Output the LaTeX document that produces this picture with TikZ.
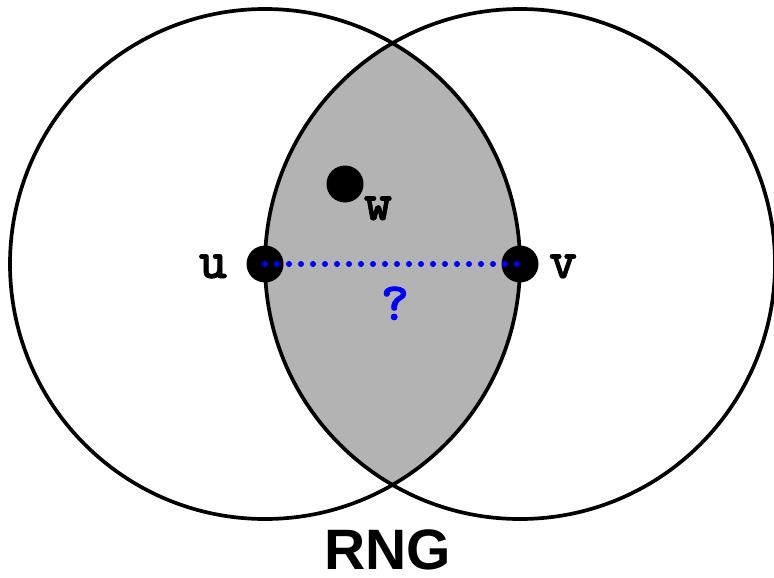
\documentclass[tikz,border=0pt]{standalone}
\usepackage{fontspec}
\newfontfamily\arialfont{Liberation Sans}
\newfontfamily\heavymono{lmmonolt10-bold.otf}[FakeBold=1.2]
\definecolor{lensgray}{RGB}{179,179,179}
\definecolor{qblue}{RGB}{0,0,255}
\begin{document}
\begin{tikzpicture}[x=1pt,y=-1pt,
  ring/.style={draw=black,line width=3.7pt},
  dot/.style={circle,fill=black,inner sep=0pt,minimum size=37pt},
  lab/.style={anchor=base,inner sep=0pt,font=\heavymono\fontsize{54}{60}\selectfont},
  bluedots/.style={draw=qblue,line width=6pt,line cap=round,dash pattern=on 0pt off 12pt},
  title/.style={anchor=base,inner sep=0pt,text depth=0pt,font=\arialfont\bfseries\fontsize{57}{64}\selectfont}]
\useasboundingbox (0,0) rectangle (774,578);
\coordinate (L) at (265,264);
\coordinate (R) at (520,264);
\begin{scope}
  \clip (L) circle[radius=255pt];
  \fill[lensgray] (R) circle[radius=255pt];
\end{scope}
\draw[ring] (L) circle[radius=255pt];
\draw[ring] (R) circle[radius=255pt];
\node[dot] (u) at (265,264) {};
\node[dot] (v) at (520,264) {};
\node[dot] (w) at (345,184) {};
\draw[bluedots] (u.center) -- (v.center);
\node[lab] (ul) at (213,278) {u};
\node[lab] (vl) at (563,278) {v};
\node[lab] (wl) at (378,220) {w};
\node[lab,text=qblue] (q) at (395,320) {?};
\node[title] (rng) at (388,569) {RNG};
\end{tikzpicture}
\end{document}
